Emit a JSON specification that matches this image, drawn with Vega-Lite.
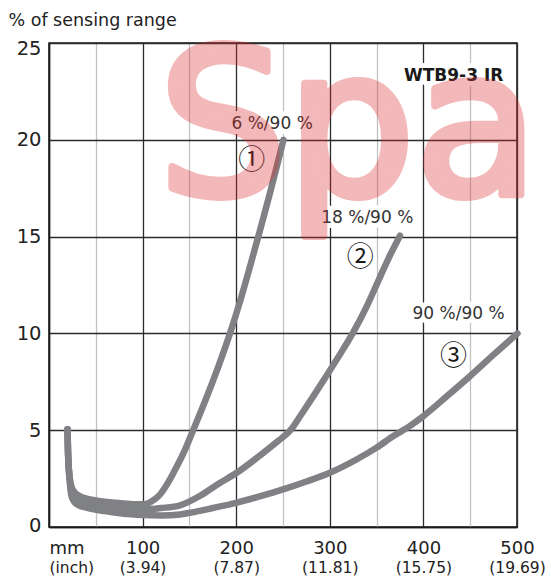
{
  "$schema": "https://vega.github.io/schema/vega-lite/v6.json",
  "width": 468,
  "height": 484,
  "autosize": {"type": "none"},
  "padding": {"left": 49, "top": 43, "right": 34, "bottom": 55},
  "background": "white",
  "config": {
    "view": {"stroke": "#1a1a1a", "strokeWidth": 1.5},
    "font": "DejaVu Sans",
    "axis": {"labelFont": "DejaVu Sans", "titleFont": "DejaVu Sans"}
  },
  "datasets": {
    "curves": [
      {"curve": 1, "mm": 19.8, "pct": 5.05}, {"curve": 1, "mm": 20.3, "pct": 3.9}, {"curve": 1, "mm": 21.2, "pct": 3.0},
      {"curve": 1, "mm": 22.4, "pct": 2.45}, {"curve": 1, "mm": 24, "pct": 2.1}, {"curve": 1, "mm": 26, "pct": 1.88},
      {"curve": 1, "mm": 30, "pct": 1.68}, {"curve": 1, "mm": 37, "pct": 1.51}, {"curve": 1, "mm": 50, "pct": 1.37},
      {"curve": 1, "mm": 72, "pct": 1.25}, {"curve": 1, "mm": 90, "pct": 1.18}, {"curve": 1, "mm": 100, "pct": 1.17},
      {"curve": 1, "mm": 106, "pct": 1.23}, {"curve": 1, "mm": 112, "pct": 1.4}, {"curve": 1, "mm": 118, "pct": 1.65},
      {"curve": 1, "mm": 125, "pct": 2.12}, {"curve": 1, "mm": 133, "pct": 2.8}, {"curve": 1, "mm": 144, "pct": 3.85},
      {"curve": 1, "mm": 154, "pct": 5.0}, {"curve": 1, "mm": 168, "pct": 6.65}, {"curve": 1, "mm": 181, "pct": 8.3},
      {"curve": 1, "mm": 193, "pct": 9.95}, {"curve": 1, "mm": 205, "pct": 11.8}, {"curve": 1, "mm": 215, "pct": 13.5},
      {"curve": 1, "mm": 225, "pct": 15.25}, {"curve": 1, "mm": 235, "pct": 17.05}, {"curve": 1, "mm": 243, "pct": 18.55},
      {"curve": 1, "mm": 250.5, "pct": 20.0},
      {"curve": 2, "mm": 19.8, "pct": 5.05}, {"curve": 2, "mm": 20.3, "pct": 3.9}, {"curve": 2, "mm": 21.2, "pct": 3.0},
      {"curve": 2, "mm": 22.4, "pct": 2.4}, {"curve": 2, "mm": 24, "pct": 1.95}, {"curve": 2, "mm": 26, "pct": 1.62},
      {"curve": 2, "mm": 30, "pct": 1.38}, {"curve": 2, "mm": 37, "pct": 1.2}, {"curve": 2, "mm": 50, "pct": 1.06},
      {"curve": 2, "mm": 70, "pct": 0.97}, {"curve": 2, "mm": 90, "pct": 0.92}, {"curve": 2, "mm": 105, "pct": 0.92},
      {"curve": 2, "mm": 120, "pct": 0.98}, {"curve": 2, "mm": 140, "pct": 1.12}, {"curve": 2, "mm": 161, "pct": 1.6},
      {"curve": 2, "mm": 180, "pct": 2.2}, {"curve": 2, "mm": 200.6, "pct": 2.8}, {"curve": 2, "mm": 225, "pct": 3.68},
      {"curve": 2, "mm": 245, "pct": 4.45}, {"curve": 2, "mm": 258, "pct": 5.0}, {"curve": 2, "mm": 270, "pct": 5.85},
      {"curve": 2, "mm": 283, "pct": 6.8}, {"curve": 2, "mm": 297, "pct": 7.85}, {"curve": 2, "mm": 310, "pct": 8.85},
      {"curve": 2, "mm": 325, "pct": 10.05}, {"curve": 2, "mm": 340, "pct": 11.45}, {"curve": 2, "mm": 354, "pct": 12.95},
      {"curve": 2, "mm": 365, "pct": 14.1}, {"curve": 2, "mm": 375, "pct": 15.05},
      {"curve": 3, "mm": 19.8, "pct": 5.05}, {"curve": 3, "mm": 20.3, "pct": 3.9}, {"curve": 3, "mm": 21.2, "pct": 2.95},
      {"curve": 3, "mm": 22.4, "pct": 2.2}, {"curve": 3, "mm": 24, "pct": 1.6}, {"curve": 3, "mm": 27, "pct": 1.3},
      {"curve": 3, "mm": 32, "pct": 1.12}, {"curve": 3, "mm": 40, "pct": 1.0}, {"curve": 3, "mm": 60, "pct": 0.82},
      {"curve": 3, "mm": 80, "pct": 0.68}, {"curve": 3, "mm": 100, "pct": 0.62}, {"curve": 3, "mm": 120, "pct": 0.6},
      {"curve": 3, "mm": 140, "pct": 0.65}, {"curve": 3, "mm": 150, "pct": 0.73}, {"curve": 3, "mm": 175, "pct": 0.98},
      {"curve": 3, "mm": 200, "pct": 1.25}, {"curve": 3, "mm": 225, "pct": 1.58}, {"curve": 3, "mm": 250, "pct": 1.94},
      {"curve": 3, "mm": 275, "pct": 2.35}, {"curve": 3, "mm": 300, "pct": 2.8}, {"curve": 3, "mm": 329, "pct": 3.5},
      {"curve": 3, "mm": 350, "pct": 4.1}, {"curve": 3, "mm": 368, "pct": 4.7}, {"curve": 3, "mm": 385, "pct": 5.2},
      {"curve": 3, "mm": 400, "pct": 5.73}, {"curve": 3, "mm": 425, "pct": 6.75}, {"curve": 3, "mm": 450, "pct": 7.8},
      {"curve": 3, "mm": 475, "pct": 8.9}, {"curve": 3, "mm": 500.5, "pct": 10.0}
    ],
    "curveLabels": [
      {"mm": 238.4, "pct": 20.55, "t": "6 %/90 %"},
      {"mm": 340, "pct": 15.69, "t": "18 %/90 %"},
      {"mm": 437.6, "pct": 10.73, "t": "90 %/90 %"}
    ],
    "model": [
      {"mm": 485.4, "pct": 23.03, "t": "WTB9-3 IR"}
    ],
    "numbers": [
      {"mm": 216.7, "pct": 18.91, "t": "①"},
      {"mm": 332.5, "pct": 13.88, "t": "②"},
      {"mm": 432.2, "pct": 8.79, "t": "③"}
    ],
    "watermark": [
      {"mm": 117, "pct": 17.2, "t": "Spa"}
    ]
  },
  "resolve": {"axis": {"x": "independent"}},
  "encoding": {
    "y": {
      "field": "pct",
      "type": "quantitative",
      "scale": {"domain": [0, 25], "nice": false, "zero": false},
      "axis": {
        "values": [0, 5, 10, 15, 20, 25],
        "title": "% of sensing range",
        "titleAngle": 0,
        "titleAlign": "left",
        "titleBaseline": "alphabetic",
        "titleX": -41,
        "titleY": -18,
        "titleFontSize": 17.5,
        "titleFontWeight": "normal",
        "titleColor": "#222222",
        "grid": true,
        "gridColor": "#2b2b2b",
        "gridWidth": 1.3,
        "domainColor": "#1a1a1a",
        "domainWidth": 1.5,
        "ticks": false,
        "labelFontSize": 19.5,
        "labelColor": "#222222",
        "labelPadding": 8,
        "labelOffset": {"condition": [{"test": "datum.value === 25", "value": 5}, {"test": "datum.value === 0", "value": -2}], "value": 0}
      }
    }
  },
  "layer": [
    {
      "data": {"name": "curves"},
      "mark": {"type": "line", "interpolate": "monotone", "strokeWidth": 6.5, "strokeCap": "round", "strokeJoin": "round", "color": "#808184"},
      "encoding": {
        "x": {
          "field": "mm",
          "type": "quantitative",
          "scale": {"domain": [0, 500], "nice": false, "zero": false},
          "axis": {
            "orient": "bottom",
            "values": [0, 50, 100, 150, 200, 250, 300, 350, 400, 450, 500],
            "title": null,
            "grid": true,
            "gridColor": {"condition": {"test": "datum.value % 100 === 0", "value": "#2b2b2b"}, "value": "#c2c2c2"},
            "gridWidth": 1.3,
            "domain": true,
            "domainColor": "#1a1a1a",
            "domainWidth": 1.5,
            "ticks": false,
            "labelExpr": "datum.value === 0 ? 'mm' : (datum.value % 100 === 0 ? datum.label : '')",
            "labelAlign": {"condition": {"test": "datum.value === 0", "value": "left"}, "value": "center"},
            "labelFontSize": 18,
            "labelColor": "#222222",
            "labelPadding": 12,
            "labelOverlap": false,
            "labelFlush": false,
            "labelBound": false
          }
        },
        "detail": {"field": "curve"}
      }
    },
    {
      "data": {"name": "curveLabels"},
      "mark": {"type": "text", "align": "center", "baseline": "alphabetic", "font": "DejaVu Sans", "fontSize": 17, "color": "white", "stroke": "white", "strokeWidth": 10, "strokeJoin": "round"},
      "encoding": {
        "x": {
          "field": "mm",
          "type": "quantitative",
          "axis": {
            "orient": "bottom",
            "offset": 21,
            "values": [0, 100, 200, 300, 400, 500],
            "title": null,
            "grid": false,
            "domain": false,
            "ticks": false,
            "labelExpr": "datum.value === 0 ? '(inch)' : datum.value === 100 ? '(3.94)' : datum.value === 200 ? '(7.87)' : datum.value === 300 ? '(11.81)' : datum.value === 400 ? '(15.75)' : '(19.69)'",
            "labelAlign": {"condition": {"test": "datum.value === 0", "value": "left"}, "value": "center"},
            "labelFontSize": 15.5,
            "labelColor": "#222222",
            "labelPadding": 12,
            "labelOverlap": false,
            "labelFlush": false,
            "labelBound": false
          }
        },
        "text": {"field": "t"}
      }
    },
    {
      "data": {"name": "model"},
      "mark": {"type": "text", "align": "right", "baseline": "alphabetic", "font": "DejaVu Sans", "fontSize": 17, "fontWeight": "bold", "color": "white", "stroke": "white", "strokeWidth": 10, "strokeJoin": "round"},
      "encoding": {
        "x": {"field": "mm", "type": "quantitative", "axis": null},
        "text": {"field": "t"}
      }
    },
    {
      "data": {"name": "curveLabels"},
      "mark": {"type": "text", "align": "center", "baseline": "alphabetic", "font": "DejaVu Sans", "fontSize": 17, "color": "#333333"},
      "encoding": {
        "x": {"field": "mm", "type": "quantitative", "axis": null},
        "text": {"field": "t"}
      }
    },
    {
      "data": {"name": "model"},
      "mark": {"type": "text", "align": "right", "baseline": "alphabetic", "font": "DejaVu Sans", "fontSize": 17, "fontWeight": "bold", "color": "#1a1a1a"},
      "encoding": {
        "x": {"field": "mm", "type": "quantitative", "axis": null},
        "text": {"field": "t"}
      }
    },
    {
      "data": {"name": "numbers"},
      "mark": {"type": "text", "align": "center", "baseline": "middle", "font": "Noto Sans CJK JP", "fontSize": 27, "color": "#1a1a1a"},
      "encoding": {
        "x": {"field": "mm", "type": "quantitative", "axis": null},
        "text": {"field": "t"}
      }
    },
    {
      "data": {"name": "watermark"},
      "mark": {"type": "text", "align": "left", "baseline": "alphabetic", "font": "DejaVu Sans", "fontSize": 202, "color": "#dd2a2e", "stroke": "#dd2a2e", "strokeWidth": 8, "strokeJoin": "round", "opacity": 0.33},
      "encoding": {
        "x": {"field": "mm", "type": "quantitative", "axis": null},
        "text": {"field": "t"}
      }
    }
  ]
}
